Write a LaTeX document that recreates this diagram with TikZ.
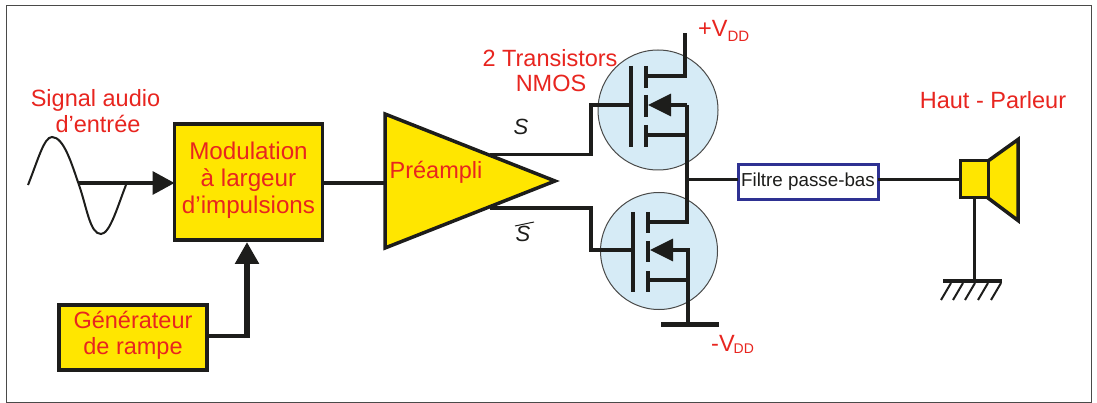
\documentclass[tikz,border=0pt]{standalone}
\usepackage{xcolor}
\usepackage{fontspec}
\setmainfont{Liberation Sans}
\usetikzlibrary{arrows.meta}

\begin{document}
\begin{tikzpicture}[x=1pt,y=-1pt]
    \definecolor{myyellow}{RGB}{255,230,0}
    \definecolor{myred}{RGB}{232,37,31}
    \definecolor{myblack}{RGB}{29,29,27}
    \definecolor{myblue}{RGB}{214,235,246}
    \definecolor{mynavy}{RGB}{46,49,146}

    \tikzstyle{format}=[rectangle,draw=myblack,line width=3.5pt,fill=myyellow,outer sep=0pt,inner sep=0pt,text=myred,align=center]  % yellow blocks
    \tikzstyle{label}=[inner sep=0pt,text=myred,align=center,font=\fontsize{23.5pt}{26.5pt}\selectfont]  % red texts
    \tikzstyle{mos}=[circle,draw=myblack!80,line width=1pt,fill=myblue,inner sep=0pt,outer sep=0pt]  % transistor disc
    \tikzstyle{wire}=[draw=myblack,line width=3.5pt,line cap=butt,line join=miter]
    \tikzstyle{point}=[coordinate]
    \tikzset{bigtip/.style={-{Triangle[length=22pt,width=23pt]}}}

    \useasboundingbox (0,0) rectangle (1097,403);
    \fill[white] (0,0) rectangle (1097,403);
    \draw[myblack!80,line width=1pt] (6,6) rectangle (1091,402);

    % blocks
    \node[format,minimum width=148pt,minimum height=116pt,text depth=8pt,font=\fontsize{24.2pt}{27pt}\selectfont](mod) at (248.5,182){Modulation\\à largeur\\d’impulsions};
    \node[format,minimum width=148pt,minimum height=65pt,text depth=9pt,font=\fontsize{23.5pt}{26pt}\selectfont](gen) at (133,337.5){Générateur\\de rampe};
    \draw[wire,fill=myyellow] (385,114) coordinate(pretop) -- (555,181) coordinate(pretip) -- (385,248) coordinate(prebot) -- cycle;
    \node[label,anchor=base](pre) at (436,179){Préampli};
    \node[rectangle,draw=mynavy,line width=3pt,fill=white,outer sep=0pt,inner sep=0pt,minimum width=140pt,minimum height=35pt,font=\fontsize{18.8pt}{20pt}\selectfont,text=myblack](filt) at (808,182){Filtre passe-bas};
    \node[mos,minimum size=120pt](tup) at (658,110){};
    \node[mos,minimum size=117pt](tdn) at (659,251){};

    % texts
    \node[label,anchor=base](sig) at (95.5,107){Signal audio};
    \node[label,anchor=base](ent) at (98,133){d’entrée};
    \node[label,anchor=base](tra) at (550,67){2 Transistors};
    \node[label,anchor=base](nmos) at (551,92){NMOS};
    \node[label,anchor=base](hp) at (993,109){Haut - Parleur};
    \node[label,anchor=base west](vp) at (698,37){+V\raisebox{-5pt}{\fontsize{15pt}{15pt}\selectfont DD}};
    \node[label,anchor=base west](vm) at (711,351){-V\kern-1pt\raisebox{-2pt}{\fontsize{14pt}{14pt}\selectfont DD}};
    \node[inner sep=0pt,anchor=base,text=myblack,font=\fontsize{22pt}{22pt}\selectfont\itshape](s) at (521,135){S};
    \node[inner sep=0pt,anchor=base,text=myblack,font=\fontsize{22pt}{22pt}\selectfont\itshape](sb) at (523,242){S};
    \draw[myblack,line width=1pt] (515,226) -- (534,222);

    % input sine
    \draw[myblack,line width=2pt] (28,185) .. controls (38,160) and (44,137) .. (52,137) .. controls (64,137) and (72,165) .. (79,185) .. controls (87,208) and (90,234) .. (101,234) .. controls (110,234) and (118,205) .. (126,185);
    \node[point](in) at (79,183){};
    \draw[wire,bigtip] (in) -- (in -| mod.west);
    \draw[myblack,line width=3.5pt] (gen.east |- 0,336) -- (249,336);
    \draw[myblack,line width=6pt,bigtip] (247,338) -- (247,242);
    \draw[wire] (mod.east |- 0,183) -- (385,183);

    % upper transistor
    \node[point](dp) at (685,33){};
    \draw[wire] (631,66) -- (631,147);
    \draw[wire] (646,66) -- (646,88);
    \draw[wire] (646,95) -- (646,117);
    \draw[wire] (646,125) -- (646,147);
    \draw[wire] (646,76) -- (685,76) -- (dp);
    \draw[wire,-{Triangle[length=23pt,width=22pt]}] (687,105) -- (648,105);
    \draw[wire] (646,135) -- (687,135);
    \draw[wire] (490,154.5) -- (591,154.5) -- (591,105) -- (631,105);

    % lower transistor
    \draw[wire] (633,212) -- (633,292);
    \draw[wire] (648,212) -- (648,233);
    \draw[wire] (648,241) -- (648,262);
    \draw[wire] (648,271) -- (648,292);
    \draw[wire] (648,222) -- (687,222) -- (687,105);
    \draw[wire,-{Triangle[length=23pt,width=22pt]}] (688,250) -- (650,250);
    \draw[wire] (648,280) -- (688,280);
    \draw[wire] (490,208) -- (591,208) -- (591,250) -- (633,250);
    \draw[wire] (688,248.5) -- (688,324);
    \draw[myblack,line width=5pt] (661,324) -- (719,324);

    % output and loudspeaker
    \draw[wire] (687,179.5) -- (filt.west |- 0,179.5);
    \draw[wire,fill=myyellow] (988,161) -- (1018,139.5) -- (1018,220.5) -- (988,198) -- cycle;
    \node[rectangle,draw=myblack,line width=3pt,fill=myyellow,outer sep=0pt,inner sep=0pt,minimum width=28pt,minimum height=37pt](spk) at (974,179.5){};
    \draw[wire] (filt.east |- 0,179.5) -- (spk.west);
    \node[point](gnd) at (974,281){};
    \draw[myblack,line width=3pt] (spk.south) -- (gnd);
    \draw[myblack,line width=4.5pt] (943,281) -- (1002,281);
    \foreach \hx in {941,953,965,978,991}
        \draw[myblack,line width=2pt] (\hx,300) -- (\hx+10,283);
\end{tikzpicture}
\end{document}
